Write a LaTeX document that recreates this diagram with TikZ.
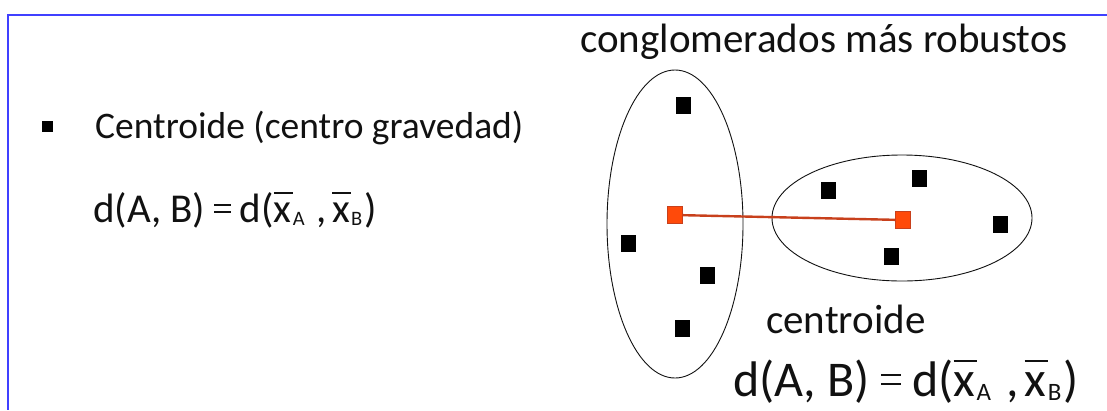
\documentclass[tikz,border=0pt]{standalone}
\usepackage{fontspec}
\usepackage{graphicx}
\setmainfont{Carlito}
\usetikzlibrary{positioning,shapes.geometric}
\definecolor{slideBlue}{HTML}{4040FF}
\definecolor{slideOrange}{HTML}{FF4A0A}
\definecolor{slideRed}{HTML}{C8401C}
\definecolor{slideInk}{HTML}{111111}
% x with a bar and a small subscript
\newcommand\barx[1]{\leavevmode\rlap{\raisebox{0.68em}{\rule{0.47em}{0.045em}}}x%
  \kern0.03em\raisebox{-0.08em}{\scalebox{0.5}{#1}}}
\newcommand\eqsign{\rlap{\raisebox{0.22em}{\rule{0.4em}{0.04em}}}%
  \raisebox{0.4em}{\rule{0.4em}{0.04em}}}
\newcommand\distAB{d(A, B)\hspace{0.22em}\eqsign\hspace{0.22em}d(\barx{A}%
  \hspace{0.3em},\hspace{0.12em}\barx{B}\kern0.05em)}
\tikzset{
  every picture/.style={text=slideInk},
  frame line/.style={draw=slideBlue, line width=2pt},
  label text/.style={anchor=base west, inner sep=0pt},
  cluster/.style={draw=slideInk, ellipse, line width=0.9pt, inner sep=0pt},
  point/.style={fill=black, rectangle, minimum width=15, minimum height=17,
    inner sep=0pt},
  centre/.style={fill=slideOrange, draw=slideRed, line width=0.5pt, rectangle,
    minimum width=15, minimum height=17, inner sep=0pt},
  link/.style={draw=slideRed, line width=2.4pt}
}
\begin{document}
\begin{tikzpicture}[x=1pt,y=-1pt]
  \useasboundingbox (0,0) rectangle (1107,410);
  \draw[frame line] (1107,15) -- (8,15) -- (8,410);
  % left side
  \node[fill=black, minimum size=11, inner sep=0pt] (bullet) at (47,126) {};
  \node[label text, font=\fontsize{37.5}{44}\selectfont] (title) at (95,138)
    {Centroide (centro gravedad)};
  \node[label text, font=\fontsize{41}{48}\selectfont] (formA) at (93,222)
    {\distAB};
  % clusters
  \node[label text, font=\fontsize{41}{48}\selectfont] (robust) at (580,52)
    {conglomerados más robustos};
  \node[cluster, minimum width=136, minimum height=308] (clA) at (675,224) {};
  \node[cluster, minimum width=260, minimum height=126] (clB) at (902,218) {};
  \foreach \n/\p in {a1/{683,105}, a2/{628,243}, a3/{707,275}, a4/{682,328},
      b1/{828,190}, b2/{919,178}, b3/{1000,224}, b4/{891,256}}
    \node[point] (\n) at (\p) {};
  \node[centre] (ca) at (675,215) {};
  \node[centre] (cb) at (903,220) {};
  \draw[link] (ca) -- (cb);
  \node[label text, font=\fontsize{41}{48}\selectfont] (cname) at (766,333)
    {centroide};
  \node[label text, font=\fontsize{50}{60}\selectfont] (formB) at (733,396)
    {\distAB};
\end{tikzpicture}
\end{document}
